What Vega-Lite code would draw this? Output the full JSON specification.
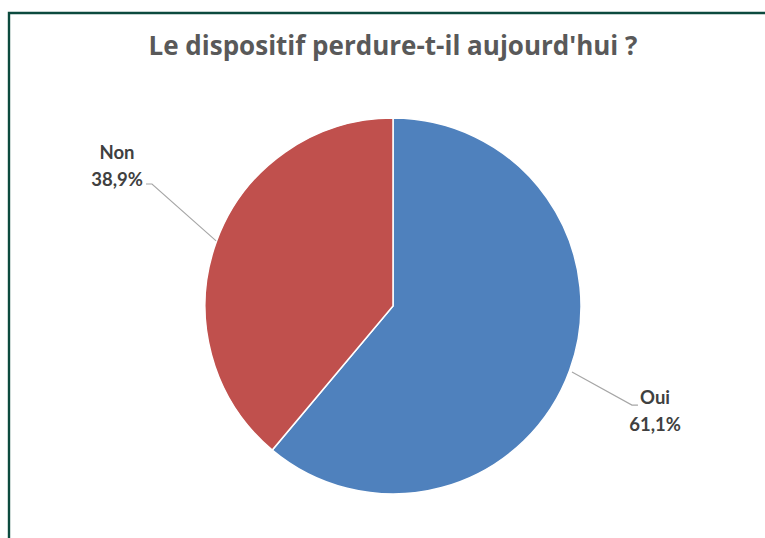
{
  "$schema": "https://vega.github.io/schema/vega-lite/v6.json",
  "width": 768,
  "height": 586,
  "autosize": {"type": "none"},
  "padding": {"left": 9, "top": 13, "right": 0, "bottom": 0},
  "background": "#ffffff",
  "config": {
    "view": {"stroke": "#0C4A3E", "strokeWidth": 2.4},
    "font": "Lato"
  },
  "title": {
    "text": "Le dispositif perdure-t-il aujourd'hui ?",
    "font": "Open Sans",
    "fontSize": 26,
    "fontWeight": "bold",
    "color": "#595959",
    "anchor": "middle",
    "frame": "group",
    "baseline": "alphabetic",
    "offset": -68
  },
  "datasets": {
    "slices": [
      {"label": "Oui", "value": 61.1},
      {"label": "Non", "value": 38.9}
    ],
    "leaders": [
      {"label": "Non", "seq": 1, "x": -1.314, "y": 0.649},
      {"label": "Non", "seq": 2, "x": -1.282, "y": 0.649},
      {"label": "Non", "seq": 3, "x": -0.941, "y": 0.346},
      {"label": "Oui", "seq": 1, "x": 0.952, "y": -0.351},
      {"label": "Oui", "seq": 2, "x": 1.271, "y": -0.527},
      {"label": "Oui", "seq": 3, "x": 1.303, "y": -0.527}
    ],
    "labels": [
      {"label": "Non", "text": "Non\n38,9%", "x": -1.468, "y": 0.814},
      {"label": "Oui", "text": "Oui\n61,1%", "x": 1.394, "y": -0.489}
    ]
  },
  "layer": [
    {
      "data": {"name": "slices"},
      "mark": {"type": "arc", "outerRadius": 188, "stroke": "#ffffff", "strokeWidth": 1.5},
      "encoding": {
        "theta": {"field": "value", "type": "quantitative", "stack": true},
        "order": {"field": "label", "sort": "descending"},
        "color": {
          "field": "label",
          "type": "nominal",
          "scale": {"domain": ["Oui", "Non"], "range": ["#4F81BD", "#C0504D"]},
          "legend": null
        }
      }
    },
    {
      "data": {"name": "leaders"},
      "mark": {"type": "line", "color": "#A6A6A6", "strokeWidth": 1.1},
      "encoding": {
        "x": {"field": "x", "type": "quantitative", "scale": {"domain": [-2.04255, 2.04255], "nice": false, "zero": false}, "axis": null},
        "y": {"field": "y", "type": "quantitative", "scale": {"domain": [-1.55851, 1.55851], "nice": false, "zero": false}, "axis": null},
        "detail": {"field": "label"},
        "order": {"field": "seq"}
      }
    },
    {
      "data": {"name": "labels"},
      "mark": {"type": "text", "font": "Lato", "fontSize": 18.5, "fontWeight": "bold", "color": "#404040", "align": "center", "baseline": "middle", "lineBreak": "\n", "lineHeight": 27},
      "encoding": {
        "x": {"field": "x", "type": "quantitative", "scale": {"domain": [-2.04255, 2.04255], "nice": false, "zero": false}, "axis": null},
        "y": {"field": "y", "type": "quantitative", "scale": {"domain": [-1.55851, 1.55851], "nice": false, "zero": false}, "axis": null},
        "text": {"field": "text"}
      }
    }
  ]
}
